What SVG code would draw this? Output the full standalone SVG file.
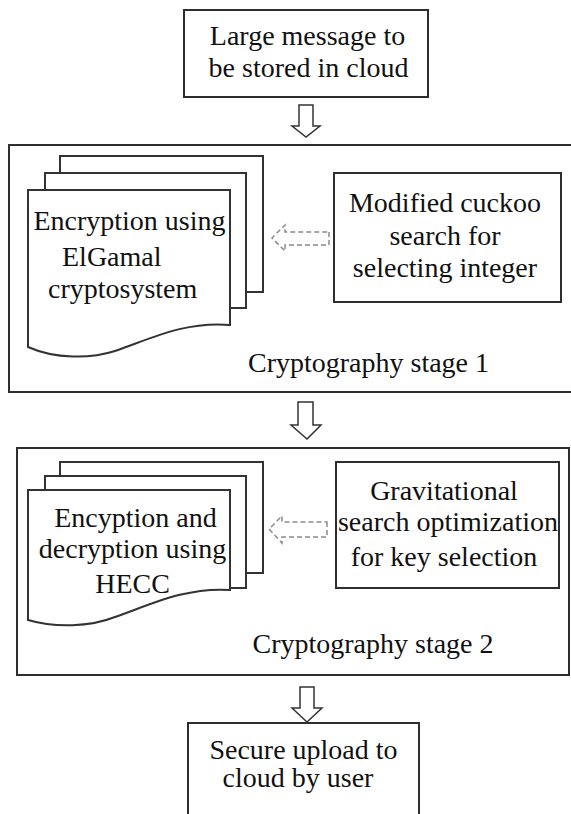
<svg xmlns="http://www.w3.org/2000/svg" width="571" height="814" viewBox="0 0 571 814">
  <style>
    .box { fill: #ffffff; stroke: #2e2e2e; stroke-width: 2; }
    .stage { fill: none; stroke: #2e2e2e; stroke-width: 2; }
    .page { fill: #ffffff; stroke: #333333; stroke-width: 2; stroke-linejoin: miter; }
    .flow { fill: #ffffff; stroke: #333333; stroke-width: 1.5; stroke-linejoin: miter; }
    .dash { fill: #ffffff; stroke: #8a8a8a; stroke-width: 1.5; stroke-dasharray: 5 3; }
    .t { font-family: "Liberation Serif", "Times New Roman", serif; font-size: 28px; fill: #111111; }
    .c { text-anchor: middle; }
  </style>

  <!-- Input message -->
  <g id="message">
    <rect class="box" x="184" y="10" width="244" height="87"/>
    <text class="t c" x="307.5" y="45">Large message to</text>
    <text class="t c" x="308.5" y="77">be stored in cloud</text>
  </g>

  <!-- Stage 1 container -->
  <g id="stage1">
    <rect class="stage" x="9" y="145" width="570" height="247"/>
    <text class="t c" x="368.5" y="372">Cryptography stage 1</text>
  </g>

  <!-- ElGamal document stack -->
  <g id="elgamal">
    <rect class="page" x="60" y="156" width="203" height="136"/>
    <rect class="page" x="45" y="173" width="201" height="135"/>
    <path class="page" d="M28,190 H230 V325 C185,321 150,339 115,351 C90,359 55,359 28,347 Z"/>
    <text class="t c" x="129.5" y="230">Encryption using</text>
    <text class="t" x="62" y="266">ElGamal</text>
    <text class="t" x="48" y="298">cryptosystem</text>
  </g>

  <!-- Cuckoo search -->
  <g id="cuckoo">
    <rect class="box" x="334" y="173" width="227" height="129"/>
    <text class="t c" x="445" y="212">Modified cuckoo</text>
    <text class="t c" x="445" y="245">search for</text>
    <text class="t c" x="445" y="277">selecting integer</text>
  </g>

  <!-- Stage 2 container -->
  <g id="stage2">
    <rect class="stage" x="17" y="448" width="552" height="227"/>
    <text class="t c" x="373" y="653">Cryptography stage 2</text>
  </g>

  <!-- HECC document stack -->
  <g id="hecc">
    <rect class="page" x="60" y="462" width="203" height="111"/>
    <rect class="page" x="45" y="476" width="201" height="112"/>
    <path class="page" d="M28,490 H230 V590 C185,587 150,605 115,617 C90,627 55,628 28,620 Z"/>
    <text class="t c" x="135.5" y="527">Encyption and</text>
    <text class="t c" x="132.5" y="558">decryption using</text>
    <text class="t c" x="132.5" y="593">HECC</text>
  </g>

  <!-- Gravitational search -->
  <g id="gravitational">
    <rect class="box" x="336" y="462" width="223" height="126"/>
    <text class="t c" x="444" y="500">Gravitational</text>
    <text class="t c" x="448" y="531">search optimization</text>
    <text class="t c" x="444" y="566">for key selection</text>
  </g>

  <!-- Output -->
  <g id="upload">
    <rect class="box" x="188" y="723" width="231" height="100"/>
    <text class="t c" x="303.5" y="759">Secure upload to</text>
    <text class="t c" x="298" y="787">cloud by user</text>
  </g>

  <!-- Connectors -->
  <g id="connectors">
    <polygon class="flow" points="299,105 313,105 313,126 320,126 306,137 292,126 299,126"/>
    <polygon class="flow" points="298,402 313,402 313,425 321,425 307,439 291,425 298,425"/>
    <polygon class="flow" points="300,687 314,687 314,708 322,708 307,722 292,708 300,708"/>
    <polygon class="dash" points="329,232 329,245 285,245 285,251 272,238 285,225 285,232"/>
    <polygon class="dash" points="327,522 327,537 282,537 282,543 269,529 282,516 282,522"/>
  </g>
</svg>
